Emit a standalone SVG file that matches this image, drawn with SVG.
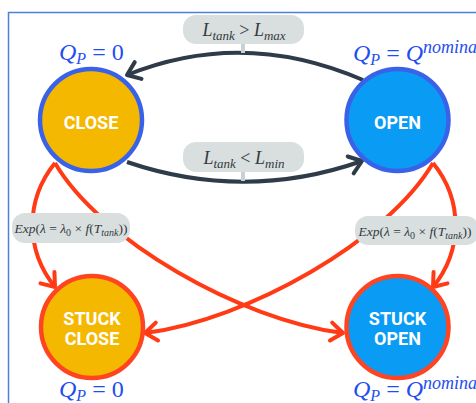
<svg xmlns="http://www.w3.org/2000/svg" width="476" height="403" viewBox="0 0 476 403">
<style>
.frame{fill:none;stroke:#4f7fd6;stroke-width:1.5}
.blue{stroke:#3a62e8;stroke-width:4.5}
.red{stroke:#ff4422;stroke-width:4.5}
.close{fill:#f5b800}
.open{fill:#0a9bf5}
.name{font-family:Roboto,"Liberation Sans",sans-serif;font-weight:bold;font-size:18px;fill:#ffffff;text-anchor:middle}
.math{font-family:"Liberation Serif","DejaVu Serif",serif;font-style:italic}
.q{font-size:24px;fill:#1f4ef0}
.lbl{fill:#d9dfdf}
.lt{font-size:18px;fill:#333a40;text-anchor:middle}
.et{font-size:13.5px;fill:#333a40;text-anchor:middle}
.up{font-style:normal}
.dark{fill:none;stroke:#2e3b48;stroke-width:4}
.redl{fill:none;stroke:#ff3a14;stroke-width:4}
.tick{stroke:#c9d2d2;stroke-width:4}
</style>
<defs>
<marker id="ad" markerUnits="userSpaceOnUse" viewBox="-16 -16 32 32" markerWidth="32" markerHeight="32" refX="0" refY="0" orient="auto">
<path d="M-12,-9 L0,0 L-12,9" fill="none" stroke="#2e3b48" stroke-width="4" stroke-linecap="round" stroke-linejoin="round"/>
</marker>
<marker id="ar" markerUnits="userSpaceOnUse" viewBox="-16 -16 32 32" markerWidth="32" markerHeight="32" refX="0" refY="0" orient="auto">
<path d="M-12,-9 L0,0 L-12,9" fill="none" stroke="#ff3a14" stroke-width="4" stroke-linecap="round" stroke-linejoin="round"/>
</marker>
</defs>
<rect class="frame" x="8.5" y="12.5" width="520" height="420"/>
<g id="connectors">
<path class="dark" d="M363,80 Q243,28 127,75" marker-end="url(#ad)"/>
<path class="dark" d="M127,162 Q245,202 362,161" marker-end="url(#ad)"/>
<path class="redl" d="M55,163 C25,200 25,250 55,287" marker-end="url(#ar)"/>
<path class="redl" d="M433,163 C463,200 463,250 433,287" marker-end="url(#ar)"/>
<path class="redl" d="M55,163 C100,240 240,320 343,333" marker-end="url(#ar)"/>
<path class="redl" d="M433,163 C388,240 248,320 145,333" marker-end="url(#ar)"/>
<line class="tick" x1="243" y1="44" x2="243" y2="53"/>
<line class="tick" x1="243" y1="172" x2="243" y2="181"/>
<g id="label-max">
<rect class="lbl" x="183" y="15" width="121" height="29" rx="13"/>
<text class="math lt" x="244" y="36">L<tspan font-size="13" dy="4">tank</tspan><tspan class="up" dy="-4"> &gt; </tspan>L<tspan font-size="13" dy="4">max</tspan></text>
</g>
<g id="label-min">
<rect class="lbl" x="183" y="142" width="121" height="30" rx="13"/>
<text class="math lt" x="244" y="163.5">L<tspan font-size="13" dy="4">tank</tspan><tspan class="up" dy="-4"> &lt; </tspan>L<tspan font-size="13" dy="4">min</tspan></text>
</g>
<g id="label-exp-left">
<rect class="lbl" x="12" y="213" width="118" height="30" rx="13"/>
<text class="math et" x="71" y="232.5">Exp<tspan class="up">(</tspan>λ<tspan class="up"> = </tspan>λ<tspan class="up" font-size="10" dy="3">0</tspan><tspan class="up" dy="-3"> × </tspan>f<tspan class="up">(</tspan>T<tspan font-size="10" dy="3">tank</tspan><tspan class="up" dy="-3">))</tspan></text>
</g>
<g id="label-exp-right">
<rect class="lbl" x="355" y="216" width="124" height="29" rx="13"/>
<text class="math et" x="415" y="235.5">Exp<tspan class="up">(</tspan>λ<tspan class="up"> = </tspan>λ<tspan class="up" font-size="10" dy="3">0</tspan><tspan class="up" dy="-3"> × </tspan>f<tspan class="up">(</tspan>T<tspan font-size="10" dy="3">tank</tspan><tspan class="up" dy="-3">))</tspan></text>
</g>
</g>
<g id="close">
<circle class="close blue" cx="91" cy="120" r="51"/>
<text class="name" x="91" y="128.5">CLOSE</text>
<text class="math q" x="59" y="60">Q<tspan font-size="16" dy="4">P</tspan><tspan class="up" dy="-4"> = 0</tspan></text>
</g>
<g id="open">
<circle class="open blue" cx="397.5" cy="120" r="51"/>
<text class="name" x="397.5" y="128.5">OPEN</text>
<text class="math q" x="353" y="61">Q<tspan font-size="16" dy="4">P</tspan><tspan class="up" dy="-4"> = </tspan>Q<tspan font-size="18" dy="-8">nominal</tspan></text>
</g>
<g id="stuck-close">
<circle class="close red" cx="92" cy="327" r="51"/>
<text class="name" x="92" y="324.5">STUCK</text>
<text class="name" x="92" y="345">CLOSE</text>
<text class="math q" x="59" y="397">Q<tspan font-size="16" dy="4">P</tspan><tspan class="up" dy="-4"> = 0</tspan></text>
</g>
<g id="stuck-open">
<circle class="open red" cx="397.5" cy="327" r="51"/>
<text class="name" x="397.5" y="324.5">STUCK</text>
<text class="name" x="397.5" y="345">OPEN</text>
<text class="math q" x="353" y="397">Q<tspan font-size="16" dy="4">P</tspan><tspan class="up" dy="-4"> = </tspan>Q<tspan font-size="18" dy="-8">nominal</tspan></text>
</g>
</svg>
